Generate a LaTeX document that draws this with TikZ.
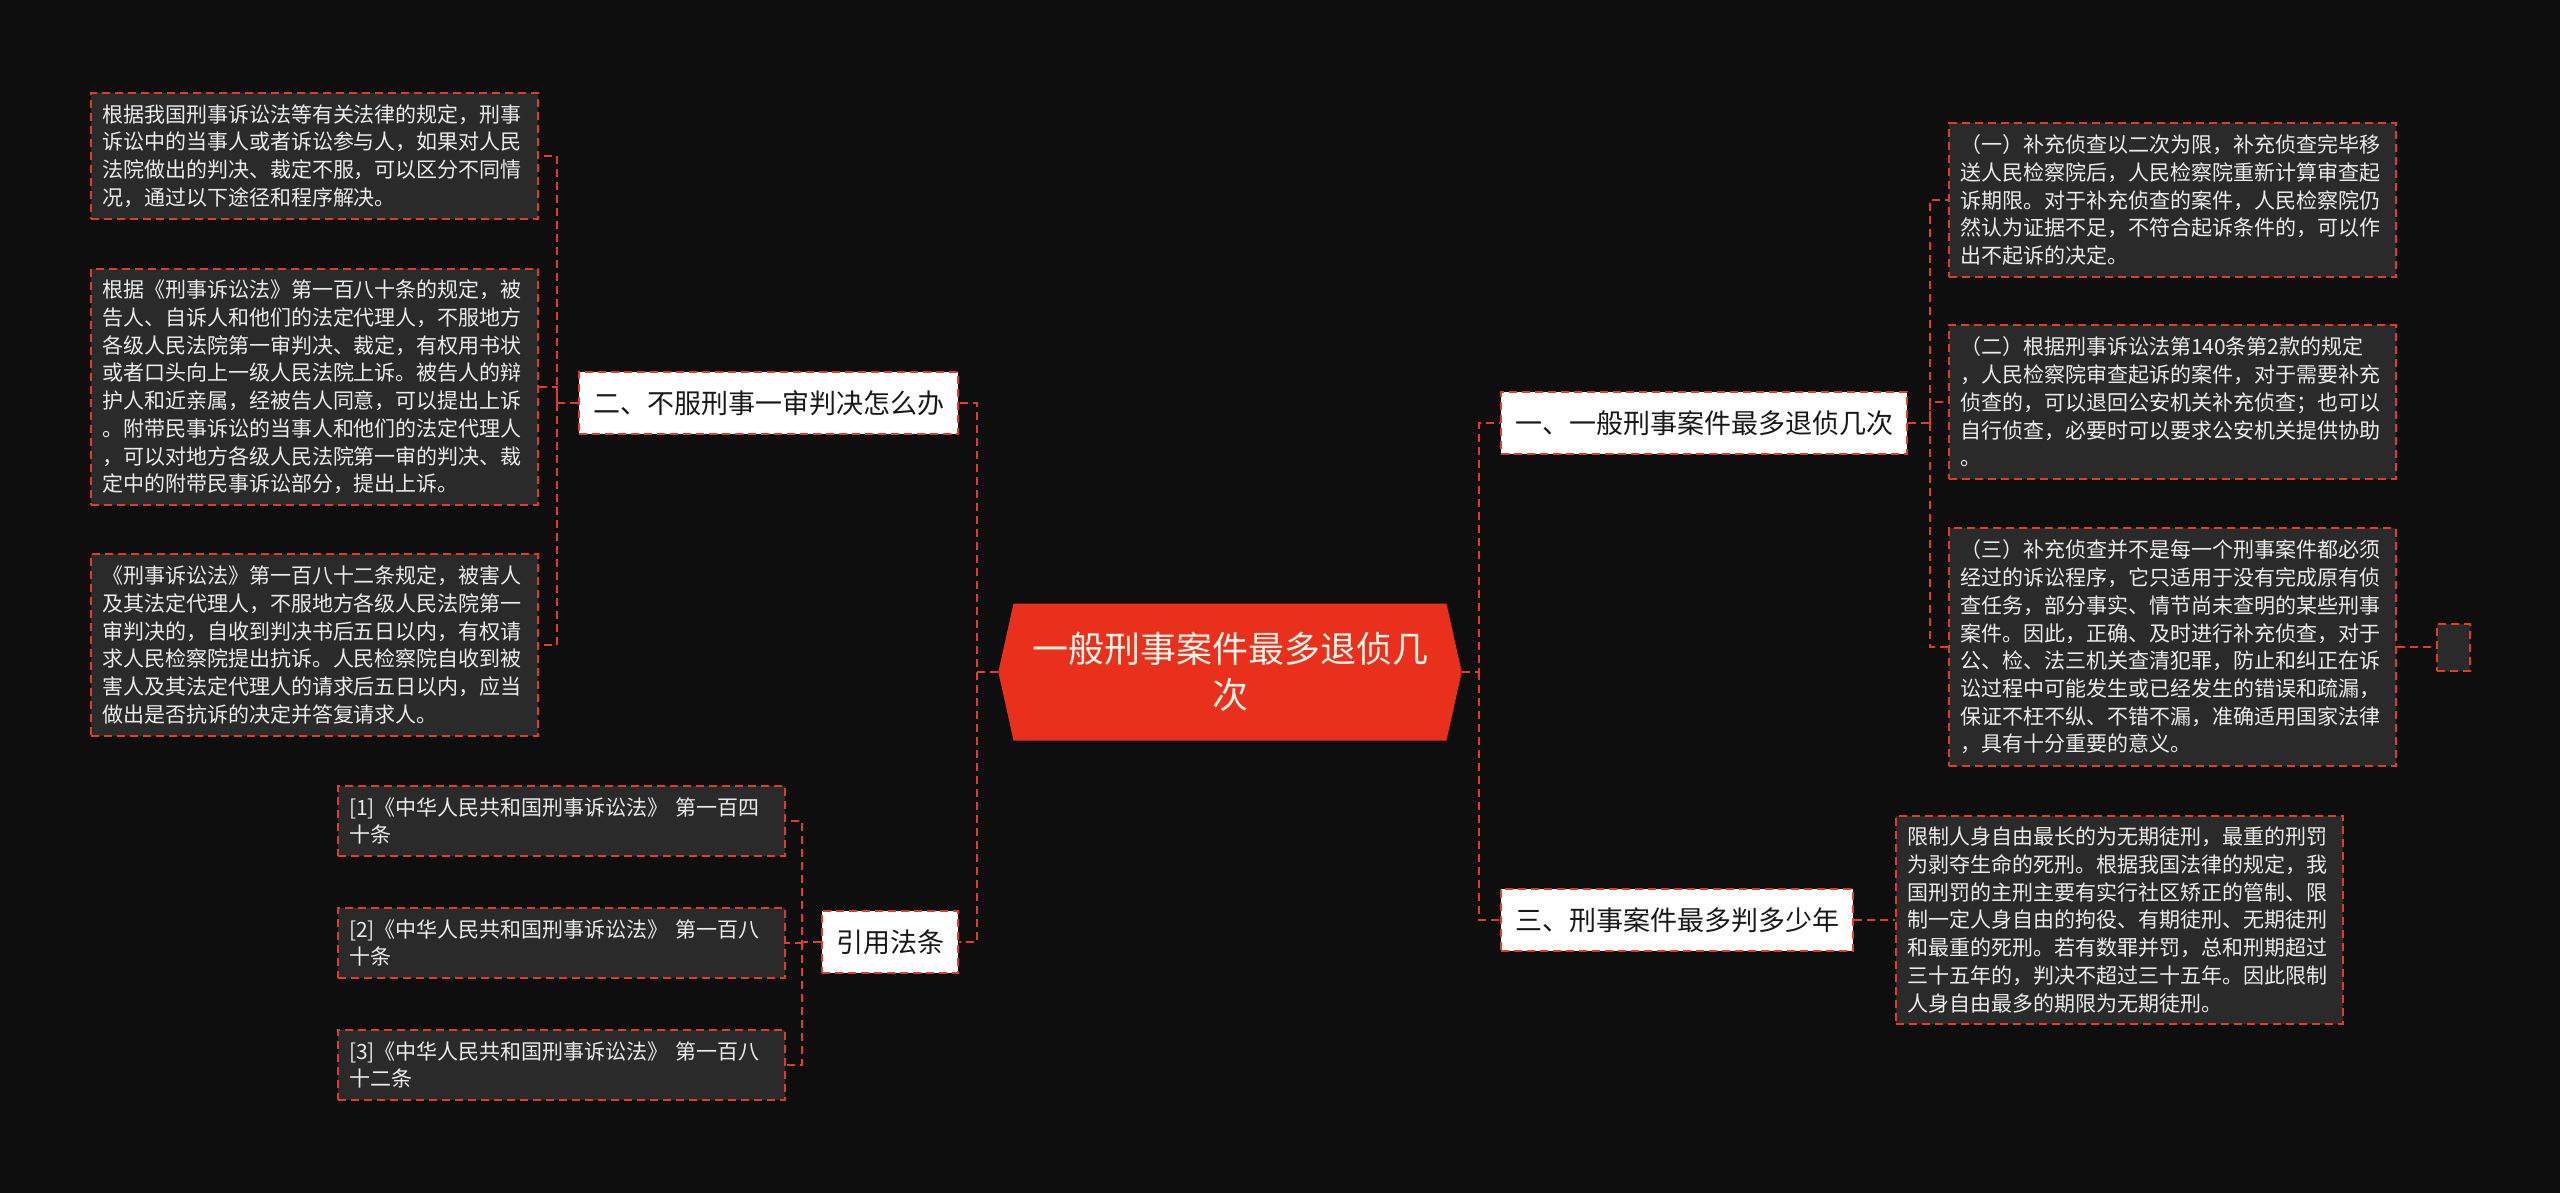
\documentclass[tikz,border=0pt]{standalone}
\usepackage{fontspec}
\setmainfont{Noto Sans CJK SC}
\usetikzlibrary{shapes.symbols}
\definecolor{bgdark}{HTML}{0E0E0E}
\definecolor{leafgray}{HTML}{2A2A2A}
\definecolor{leaftext}{HTML}{EBEBEB}
\definecolor{linkred}{HTML}{E03C28}
\definecolor{rootred}{HTML}{E8301C}
\definecolor{roottext}{HTML}{FFF2E6}

\begin{document}
\begin{tikzpicture}[x=1pt,y=-1pt,
  link/.style={draw=linkred,line width=2pt,dash pattern=on 8pt off 5pt},
  root/.style={signal,signal to=east and west,signal pointer angle=155,
    fill=rootred,text=roottext,text width=400pt,align=center,
    inner xsep=16.5pt,minimum height=137pt,font=\fontsize{36}{46}\selectfont},
  branch/.style={link,fill=white,text=black!90,inner xsep=14pt,
    minimum height=62pt,font=\fontsize{27}{32}\selectfont},
  leaf/.style={link,fill=leafgray,text=leaftext,text width=425pt,align=left,
    inner xsep=11pt,inner ysep=11.5pt,anchor=west,font=\fontsize{21}{27.7}\selectfont}]

  \fill[bgdark] (0,0) rectangle (2560,1193);
  \useasboundingbox (0,0) rectangle (2560,1193);

  \coordinate (tl) at (977,672);
  \coordinate (tr) at (1479,672);
  \coordinate (t2) at (557,403);
  \coordinate (t4) at (802,942);
  \coordinate (t1) at (1930,423);

  \node[root] (root) at (1230,672) {一般刑事案件最多退侦几\\次};

  \node[branch,anchor=east] (b2) at (959,403) {二、不服刑事一审判决怎么办};
  \node[branch,anchor=east] (b4) at (959,942) {引用法条};
  \node[branch,anchor=west] (b1) at (1500,423) {一、一般刑事案件最多退侦几次};
  \node[branch,anchor=west] (b3) at (1500,920) {三、刑事案件最多判多少年};

  \node[leaf] (l1) at (90,156) {根据我国刑事诉讼法等有关法律的规定，刑事\\诉讼中的当事人或者诉讼参与人，如果对人民\\法院做出的判决、裁定不服，可以区分不同情\\况，通过以下途径和程序解决。};
  \node[leaf] (l2) at (90,387) {根据《刑事诉讼法》第一百八十条的规定，被\\告人、自诉人和他们的法定代理人，不服地方\\各级人民法院第一审判决、裁定，有权用书状\\或者口头向上一级人民法院上诉。被告人的辩\\护人和近亲属，经被告人同意，可以提出上诉\\。附带民事诉讼的当事人和他们的法定代理人\\，可以对地方各级人民法院第一审的判决、裁\\定中的附带民事诉讼部分，提出上诉。};
  \node[leaf] (l3) at (90,645) {《刑事诉讼法》第一百八十二条规定，被害人\\及其法定代理人，不服地方各级人民法院第一\\审判决的，自收到判决书后五日以内，有权请\\求人民检察院提出抗诉。人民检察院自收到被\\害人及其法定代理人的请求后五日以内，应当\\做出是否抗诉的决定并答复请求人。};

  \node[leaf] (f1) at (337,821) {[1]《中华人民共和国刑事诉讼法》 第一百四\\十条};
  \node[leaf] (f2) at (337,943) {[2]《中华人民共和国刑事诉讼法》 第一百八\\十条};
  \node[leaf] (f3) at (337,1065) {[3]《中华人民共和国刑事诉讼法》 第一百八\\十二条};

  \node[leaf] (r1) at (1948,200) {（一）补充侦查以二次为限，补充侦查完毕移\\送人民检察院后，人民检察院重新计算审查起\\诉期限。对于补充侦查的案件，人民检察院仍\\然认为证据不足，不符合起诉条件的，可以作\\出不起诉的决定。};
  \node[leaf] (r2) at (1948,402) {（二）根据刑事诉讼法第140条第2款的规定\\，人民检察院审查起诉的案件，对于需要补充\\侦查的，可以退回公安机关补充侦查；也可以\\自行侦查，必要时可以要求公安机关提供协助\\。};
  \node[leaf] (r3) at (1948,647) {（三）补充侦查并不是每一个刑事案件都必须\\经过的诉讼程序，它只适用于没有完成原有侦\\查任务，部分事实、情节尚未查明的某些刑事\\案件。因此，正确、及时进行补充侦查，对于\\公、检、法三机关查清犯罪，防止和纠正在诉\\讼过程中可能发生或已经发生的错误和疏漏，\\保证不枉不纵、不错不漏，准确适用国家法律\\，具有十分重要的意义。};
  \node[link,fill=leafgray,minimum width=33pt,minimum height=47pt,inner sep=0pt,anchor=west] (r3x) at (2436,647) {};
  \node[leaf] (r4) at (1895,920) {限制人身自由最长的为无期徒刑，最重的刑罚\\为剥夺生命的死刑。根据我国法律的规定，我\\国刑罚的主刑主要有实行社区矫正的管制、限\\制一定人身自由的拘役、有期徒刑、无期徒刑\\和最重的死刑。若有数罪并罚，总和刑期超过\\三十五年的，判决不超过三十五年。因此限制\\人身自由最多的期限为无期徒刑。};

  \draw[link] (root.west) -- (tl) |- (b2.east);
  \draw[link] (tl) |- (b4.east);
  \draw[link] (root.east) -- (tr) |- (b1.west);
  \draw[link] (tr) |- (b3.west);

  \draw[link] (b2.west) -- (t2) |- (l1.east);
  \draw[link] (t2) |- (l2.east);
  \draw[link] (t2) |- (l3.east);

  \draw[link] (b4.west) -- (t4) |- (f1.east);
  \draw[link] (t4) |- (f2.east);
  \draw[link] (t4) |- (f3.east);

  \draw[link] (b1.east) -- (t1) |- (r1.west);
  \draw[link] (t1) |- (r2.west);
  \draw[link] (t1) |- (r3.west);
  \draw[link] (r3.east) -- (r3x.west);
  \draw[link] (b3.east) -- (r4.west);
\end{tikzpicture}
\end{document}
